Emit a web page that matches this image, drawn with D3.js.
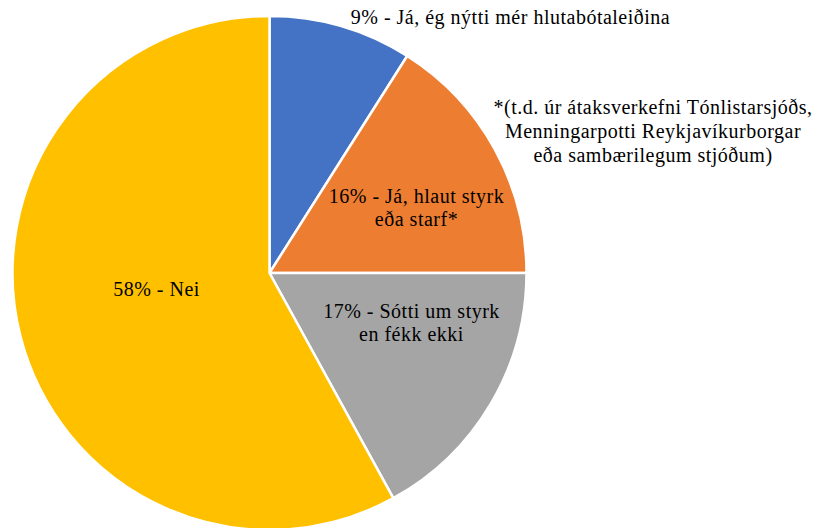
<!DOCTYPE html>
<html>
<head>
<meta charset="utf-8">
<script src="https://cdn.jsdelivr.net/npm/d3@7"></script>
<style>
  body { margin: 0; background: #fff; }
  text { font-family: "Palatino Linotype", "Book Antiqua", Palatino, "Liberation Serif", serif; font-size: 20px; letter-spacing: 0.5px; fill: #000; }
</style>
</head>
<body>
<script>
var width = 820, height = 528;

// data (percent, clockwise from 12 o'clock)
var categories = ["Já, ég nýtti mér hlutabótaleiðina", "Já, hlaut styrk eða starf*", "Sótti um styrk en fékk ekki", "Nei"];
var values = [9, 16, 17, 58];
var labelLines = [
  ["9% - Já, ég nýtti mér hlutabótaleiðina"],
  ["16% - Já, hlaut styrk", "eða starf*"],
  ["17% - Sótti um styrk", "en fékk ekki"],
  ["58% - Nei"]
];
var footnote = ["*(t.d. úr átaksverkefni Tónlistarsjóðs,", "Menningarpotti Reykjavíkurborgar", "eða sambærilegum stjóðum)"];

var colors = ["#4472C4", "#ED7D31", "#A5A5A5", "#FFC000"];

// label placement (offset from pie centre), set by hand like in the original
var labelPos = [[241, -255], [147, -65], [142, 50], [-113, 17]];

var cx = 269.5, cy = 273, radius = 257;

var svg = d3.select("body").append("svg")
    .attr("width", width)
    .attr("height", height);

var pie = d3.pie().sort(null).value(function(d) { return d; });
var arc = d3.arc().innerRadius(0).outerRadius(radius);

var g = svg.append("g").attr("transform", "translate(" + cx + "," + cy + ")");

g.selectAll("path")
  .data(pie(values))
  .enter().append("path")
    .attr("d", arc)
    .style("fill", function(d, i) { return colors[i]; })
    .style("stroke", "#fff")
    .style("stroke-width", 2.5);

var lineH = 23;
g.selectAll("text.lbl")
  .data(labelLines)
  .enter().append("text")
    .attr("class", "lbl")
    .attr("text-anchor", "middle")
    .attr("transform", function(d, i) { return "translate(" + labelPos[i][0] + "," + labelPos[i][1] + ")"; })
    .each(function(d) {
      var t = d3.select(this);
      var y0 = -(d.length - 1) * lineH / 2 + 6;
      d.forEach(function(s, k) {
        t.append("tspan").attr("x", 0).attr("y", y0 + k * lineH).text(s);
      });
    });

var fn = svg.append("text")
    .attr("text-anchor", "middle")
    .attr("transform", "translate(653,114)");
footnote.forEach(function(s, k) {
  fn.append("tspan").attr("x", 0).attr("y", k * 24).text(s);
});
</script>
</body>
</html>
